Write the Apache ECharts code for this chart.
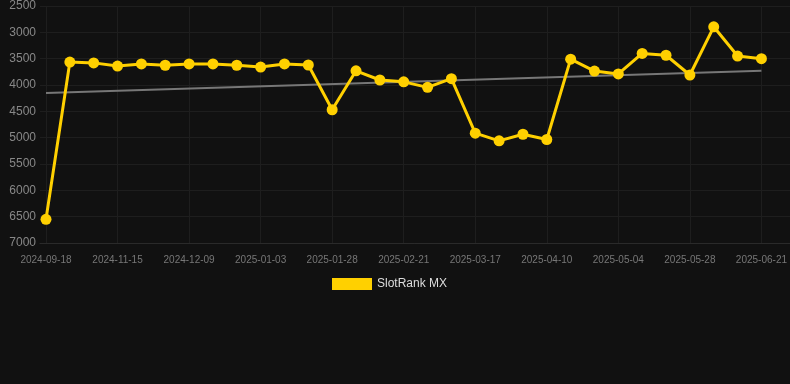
<!DOCTYPE html>
<html>
<head>
<meta charset="utf-8">
<script src="https://cdn.jsdelivr.net/npm/echarts@6/dist/echarts.min.js"></script>
<style>
html,body{margin:0;padding:0;background:#111111;}
#c{width:790px;height:384px;}
</style>
</head>
<body>
<div id="c"></div>
<script>
var categories = [
  "2024-09-18","2024-10-30","2024-11-07","2024-11-15","2024-11-23","2024-12-01",
  "2024-12-09","2024-12-17","2024-12-25","2025-01-03","2025-01-11","2025-01-19",
  "2025-01-28","2025-02-05","2025-02-13","2025-02-21","2025-03-01","2025-03-09",
  "2025-03-17","2025-03-25","2025-04-02","2025-04-10","2025-04-18","2025-04-26",
  "2025-05-04","2025-05-12","2025-05-20","2025-05-28","2025-06-05","2025-06-13",
  "2025-06-21"
];
var rankValues = [
  6550, 3565, 3580, 3640, 3600, 3625,
  3600, 3600, 3625, 3660, 3600, 3620,
  4470, 3730, 3905, 3940, 4045, 3880,
  4915, 5060, 4935, 5035, 3510, 3735,
  3790, 3400, 3435, 3810, 2895, 3450,
  3500
];
var trendStart = 4150;
var trendEnd = 3730;
var trendValues = categories.map(function(c, i){
  if (i === 0) return trendStart;
  if (i === categories.length - 1) return trendEnd;
  return '-';
});
var yMin = 2500, yMax = 7000, yStep = 500;

var chart = echarts.init(document.getElementById('c'), null, {renderer:'canvas'});
chart.setOption({
  backgroundColor: '#111111',
  animation: false,
  legend: {
    data: ['SlotRank MX'],
    top: 273,
    left: 327,
    itemWidth: 40,
    itemHeight: 12,
    itemGap: 10,
    icon: 'rect',
    textStyle: {color: '#dddddd', fontSize: 12, fontFamily: 'Liberation Sans, Arial, sans-serif'}
  },
  grid: [
    {left: 40, right: 0, top: 6, bottom: 141},
    {left: 46, right: 28, top: 6, bottom: 141}
  ],
  xAxis: [
    {
      gridIndex: 0, type: 'value', min: 0, max: 1,
      axisLine: {show: true, onZero: false, lineStyle: {color: '#2a2a2a', width: 1}},
      axisTick: {show: false}, axisLabel: {show: false}, splitLine: {show: false}
    },
    {
      gridIndex: 1, type: 'category', data: categories, boundaryGap: false,
      axisLine: {show: false}, axisTick: {show: false},
      axisLabel: {interval: 2, color: '#777777', fontSize: 10, margin: 12,
        fontFamily: 'Liberation Sans, Arial, sans-serif'},
      splitLine: {show: true, interval: 2, lineStyle: {color: '#1e1e1e', width: 1}}
    }
  ],
  yAxis: [
    {
      gridIndex: 0, type: 'value', inverse: true, min: yMin, max: yMax, interval: yStep,
      axisLine: {show: false}, axisTick: {show: false},
      axisLabel: {color: '#888888', fontSize: 12, margin: 4,
        formatter: function(v){ return String(v); },
        fontFamily: 'Liberation Sans, Arial, sans-serif'},
      splitLine: {show: true, lineStyle: {color: '#1e1e1e', width: 1}}
    },
    {
      gridIndex: 1, type: 'value', inverse: true, min: yMin, max: yMax, interval: yStep,
      axisLine: {show: false}, axisTick: {show: false},
      axisLabel: {show: false}, splitLine: {show: false}
    }
  ],
  series: [
    {
      name: 'Trend', type: 'line', xAxisIndex: 1, yAxisIndex: 1,
      data: trendValues, connectNulls: true, symbol: 'none',
      lineStyle: {color: '#777777', width: 2}, z: 2, silent: true
    },
    {
      name: 'SlotRank MX', type: 'line', xAxisIndex: 1, yAxisIndex: 1,
      data: rankValues, symbol: 'circle', symbolSize: 11,
      itemStyle: {color: '#FFD000'},
      lineStyle: {color: '#FFD000', width: 3}, z: 3
    }
  ]
});
</script>
</body>
</html>
